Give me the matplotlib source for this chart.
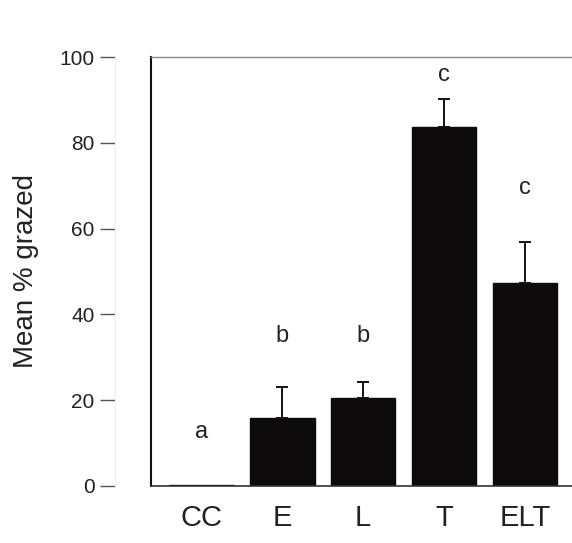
import numpy as np
import matplotlib.pyplot as plt

# Данные
groups = ['CC', 'E', 'L', 'T', 'ELT']
mean_grazed = [0.3, 15.8, 20.5, 83.7, 47.3]
se_upper = [0.0, 7.3, 3.7, 6.5, 9.6]
letters = ['a', 'b', 'b', 'c', 'c']
letter_y = [12.6, 35.0, 35.0, 95.8, 69.5]

plt.rcParams['font.family'] = ['Liberation Sans', 'DejaVu Sans']

fig = plt.figure(figsize=(5.72, 5.43), dpi=100)
ax = fig.add_axes([0.264, 0.105, 0.760, 0.790])

x = np.arange(len(groups))
ax.bar(x, mean_grazed, width=0.8, color='#0d0b0b', edgecolor='#0d0b0b', zorder=2)
ax.errorbar(x[1:], mean_grazed[1:], yerr=[np.zeros(len(x) - 1), se_upper[1:]],
            fmt='none', ecolor='#111111', elinewidth=1.4, capsize=4, capthick=1.4, zorder=3)

for xi, lab, ly in zip(x, letters, letter_y):
    ax.text(xi, ly, lab, ha='center', va='center', fontsize=17, color='#222222')

ax.set_xlim(-0.62, 4.75)
ax.set_ylim(0, 100)

# Оси
ax.spines['left'].set_color('#111111')
ax.spines['left'].set_linewidth(1.5)
ax.spines['bottom'].set_color('#333333')
ax.spines['bottom'].set_linewidth(1.2)
ax.spines['top'].set_color('#888888')
ax.spines['top'].set_linewidth(1.0)
ax.spines['right'].set_visible(False)
ax.tick_params(left=False, labelleft=False)
ax.set_xticks(x)
ax.set_xticklabels(groups, fontsize=21, color='#222222')
ax.tick_params(axis='x', length=0, pad=13)

sec = ax.secondary_yaxis(-0.083)
sec.spines['left'].set_color('#eeeeee')
sec.set_yticks([0, 20, 40, 60, 80, 100])
sec.tick_params(axis='y', length=11, width=1.0, color='#555555', pad=3.6,
                labelsize=15, labelcolor='#222222')
sec.set_ylabel('Mean % grazed', fontsize=20, color='#222222', labelpad=15)

fig.savefig('out.png', dpi=100)
